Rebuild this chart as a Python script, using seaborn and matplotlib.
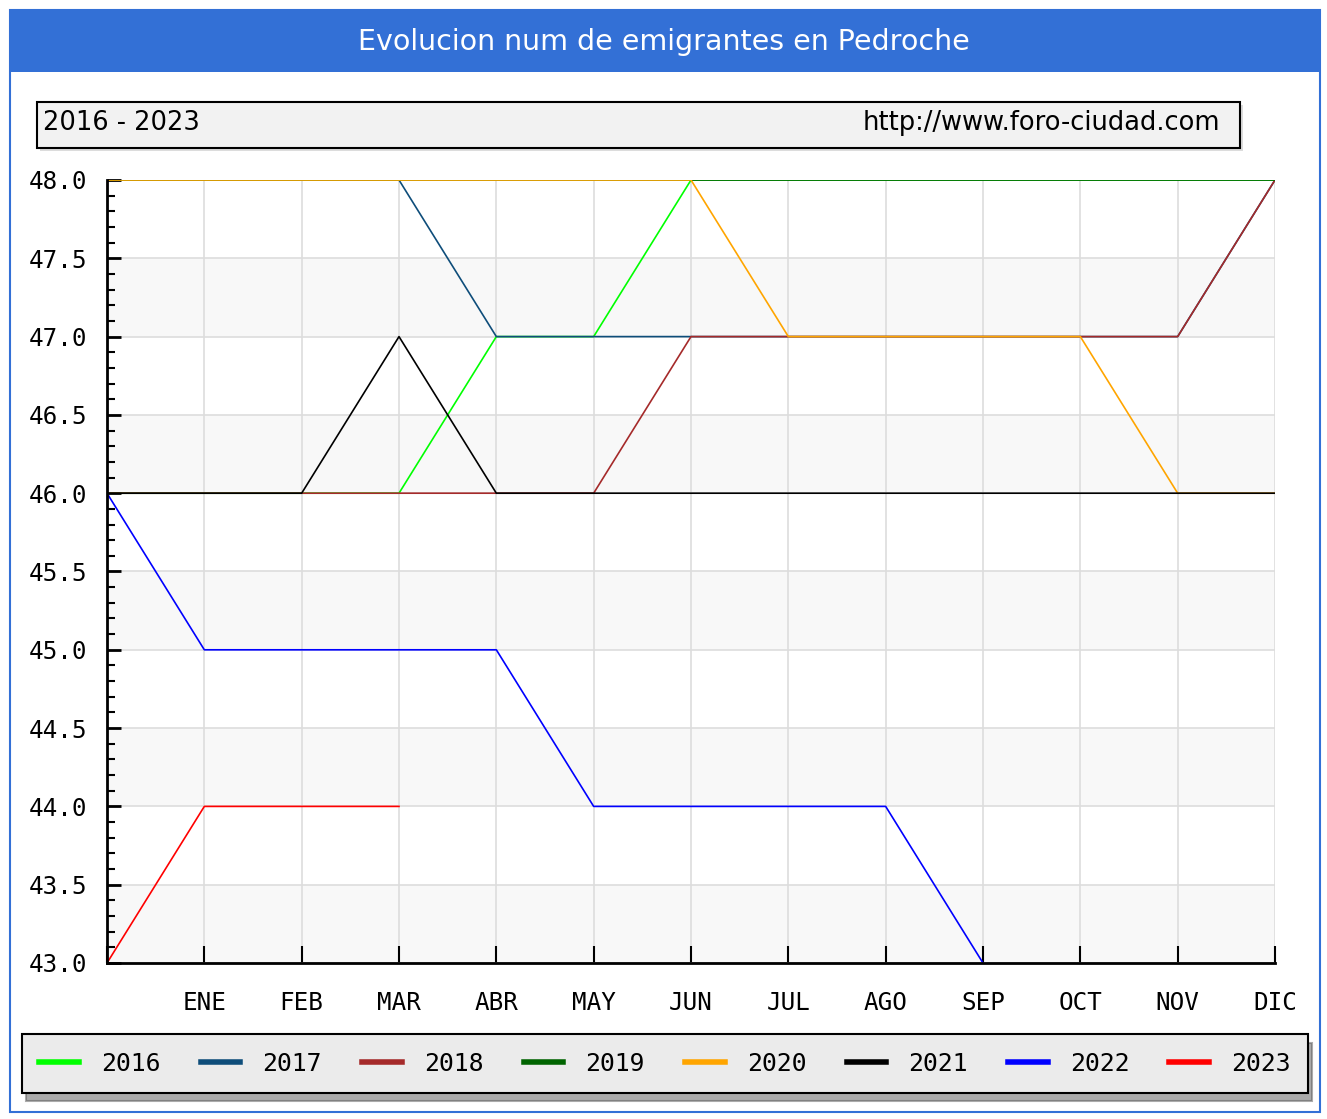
import numpy as np
import pandas as pd
import matplotlib
matplotlib.use("Agg")
import matplotlib.pyplot as plt
from matplotlib.patches import Rectangle
from matplotlib.ticker import MultipleLocator
import seaborn as sns

nan = np.nan
meses = ["", "ENE", "FEB", "MAR", "ABR", "MAY", "JUN", "JUL", "AGO", "SEP", "OCT", "NOV", "DIC"]

y2016 = [46, 46, 46, 46, 47, 47, 48, 48, 48, 48, 48, 48, 48]
y2017 = [48, 48, 48, 48, 47, 47, 47, 47, 47, 47, 47, 47, 48]
y2018 = [46, 46, 46, 46, 46, 46, 47, 47, 47, 47, 47, 47, 48]
y2019 = [48, 48, 48, 48, 48, 48, 48, 48, 48, 48, 48, 48, 48]
y2020 = [48, 48, 48, 48, 48, 48, 48, 47, 47, 47, 47, 46, 46]
y2021 = [46, 46, 46, 47, 46, 46, 46, 46, 46, 46, 46, 46, 46]
y2022 = [46, 45, 45, 45, 45, 44, 44, 44, 44, 43, nan, nan, nan]
y2023 = [43, 44, 44, 44, nan, nan, nan, nan, nan, nan, nan, nan, nan]

series = {"2016": y2016, "2017": y2017, "2018": y2018, "2019": y2019,
          "2020": y2020, "2021": y2021, "2022": y2022, "2023": y2023}
colores = {"2016": "#00ff00", "2017": "#0e4d7a", "2018": "#a52a2a", "2019": "#006400",
           "2020": "#ffa500", "2021": "#000000", "2022": "#0000ff", "2023": "#ff0000"}

rows = []
for year, vals in series.items():
    for i, v in enumerate(vals):
        rows.append({"mes": i, "valor": v, "year": year})
df = pd.DataFrame(rows)

W, H = 1327, 1119
fig = plt.figure(figsize=(W / 100, H / 100), dpi=100)
fig.patch.set_facecolor("white")

def fx(x):
    return x / W

def fy(y):
    return 1 - y / H

# outer frame and title bar
fig.patches.append(Rectangle((fx(10), fy(1112)), fx(1310), 1102 / H, transform=fig.transFigure,
                             facecolor="none", edgecolor="#3370d6", lw=1.5, zorder=-2))
fig.patches.append(Rectangle((fx(10), fy(72)), fx(1310), 62 / H, transform=fig.transFigure,
                             facecolor="#3370d6", edgecolor="none", zorder=-1))
fig.text(fx(664), fy(42), "Evolucion num de emigrantes en Pedroche", color="white",
         ha="center", va="center", fontsize=20.5, family="DejaVu Sans")

# header box
fig.patches.append(Rectangle((fx(40), fy(151)), fx(1203), 46 / H, transform=fig.transFigure,
                             facecolor="#dcdcdc", edgecolor="none", zorder=1))
fig.patches.append(Rectangle((fx(37), fy(148)), fx(1203), 46 / H, transform=fig.transFigure,
                             facecolor="#f2f2f2", edgecolor="black", lw=1.5, zorder=2))
fig.text(fx(43), fy(123), "2016 - 2023", ha="left", va="center", fontsize=18.5,
         family="DejaVu Sans", zorder=3)
fig.text(fx(1220), fy(123), "http://www.foro-ciudad.com", ha="right", va="center",
         fontsize=18.5, family="DejaVu Sans", zorder=3)

ax = fig.add_axes([fx(107), fy(963), fx(1275 - 107), (963 - 180) / H])
ax.set_zorder(3)
ax.set_facecolor("white")
for lo in [43, 44, 45, 46, 47]:
    ax.axhspan(lo, lo + 0.5, color="#f8f8f8", zorder=0, lw=0)

sns.lineplot(data=df, x="mes", y="valor", hue="year", palette=colores, ax=ax,
             lw=1.2, legend=True, estimator=None, sort=False)

ax.set_xlim(0, 12)
ax.set_ylim(43, 48)
ax.set_xticks(range(13))
ax.set_xticklabels(meses, family="DejaVu Sans Mono", fontsize=17.5)
ax.yaxis.set_major_locator(MultipleLocator(0.5))
ax.yaxis.set_minor_locator(MultipleLocator(0.1))
ax.set_yticks(ax.get_yticks())
ax.set_yticklabels([f"{v:.1f}" for v in ax.get_yticks()], family="DejaVu Sans Mono", fontsize=17.5)
ax.set_ylim(43, 48)
ax.grid(True, which="major", color="#dddddd", lw=1.2, zorder=0.5)
ax.set_axisbelow(True)
ax.tick_params(axis="y", which="major", direction="in", length=10, width=2, pad=14)
ax.tick_params(axis="y", which="minor", direction="in", length=6, width=1.5)
ax.tick_params(axis="x", which="major", direction="in", length=12, width=1.5, pad=20)
ax.set_xlabel("")
ax.set_ylabel("")
for s in ["top", "right"]:
    ax.spines[s].set_visible(False)
for s in ["left", "bottom"]:
    ax.spines[s].set_linewidth(2)
    ax.spines[s].set_zorder(5)

handles, labels = ax.get_legend_handles_labels()
ax.get_legend().remove()
for h in handles:
    h.set_linewidth(4)
leg = fig.legend(handles, labels, ncol=8, loc="lower left", mode="expand",
                 bbox_to_anchor=(fx(22), fy(1093), fx(1286), 60 / H),
                 frameon=True, fancybox=False,
                 shadow={"ox": 3, "oy": -6, "color": "0.35"}, edgecolor="black",
                 facecolor="#ebebeb", prop={"family": "DejaVu Sans Mono", "size": 17.8},
                 handlelength=1.6, handletextpad=0.9, borderaxespad=0, borderpad=0.7)
leg.get_frame().set_linewidth(1.5)

fig.savefig("out.png", dpi=100)
